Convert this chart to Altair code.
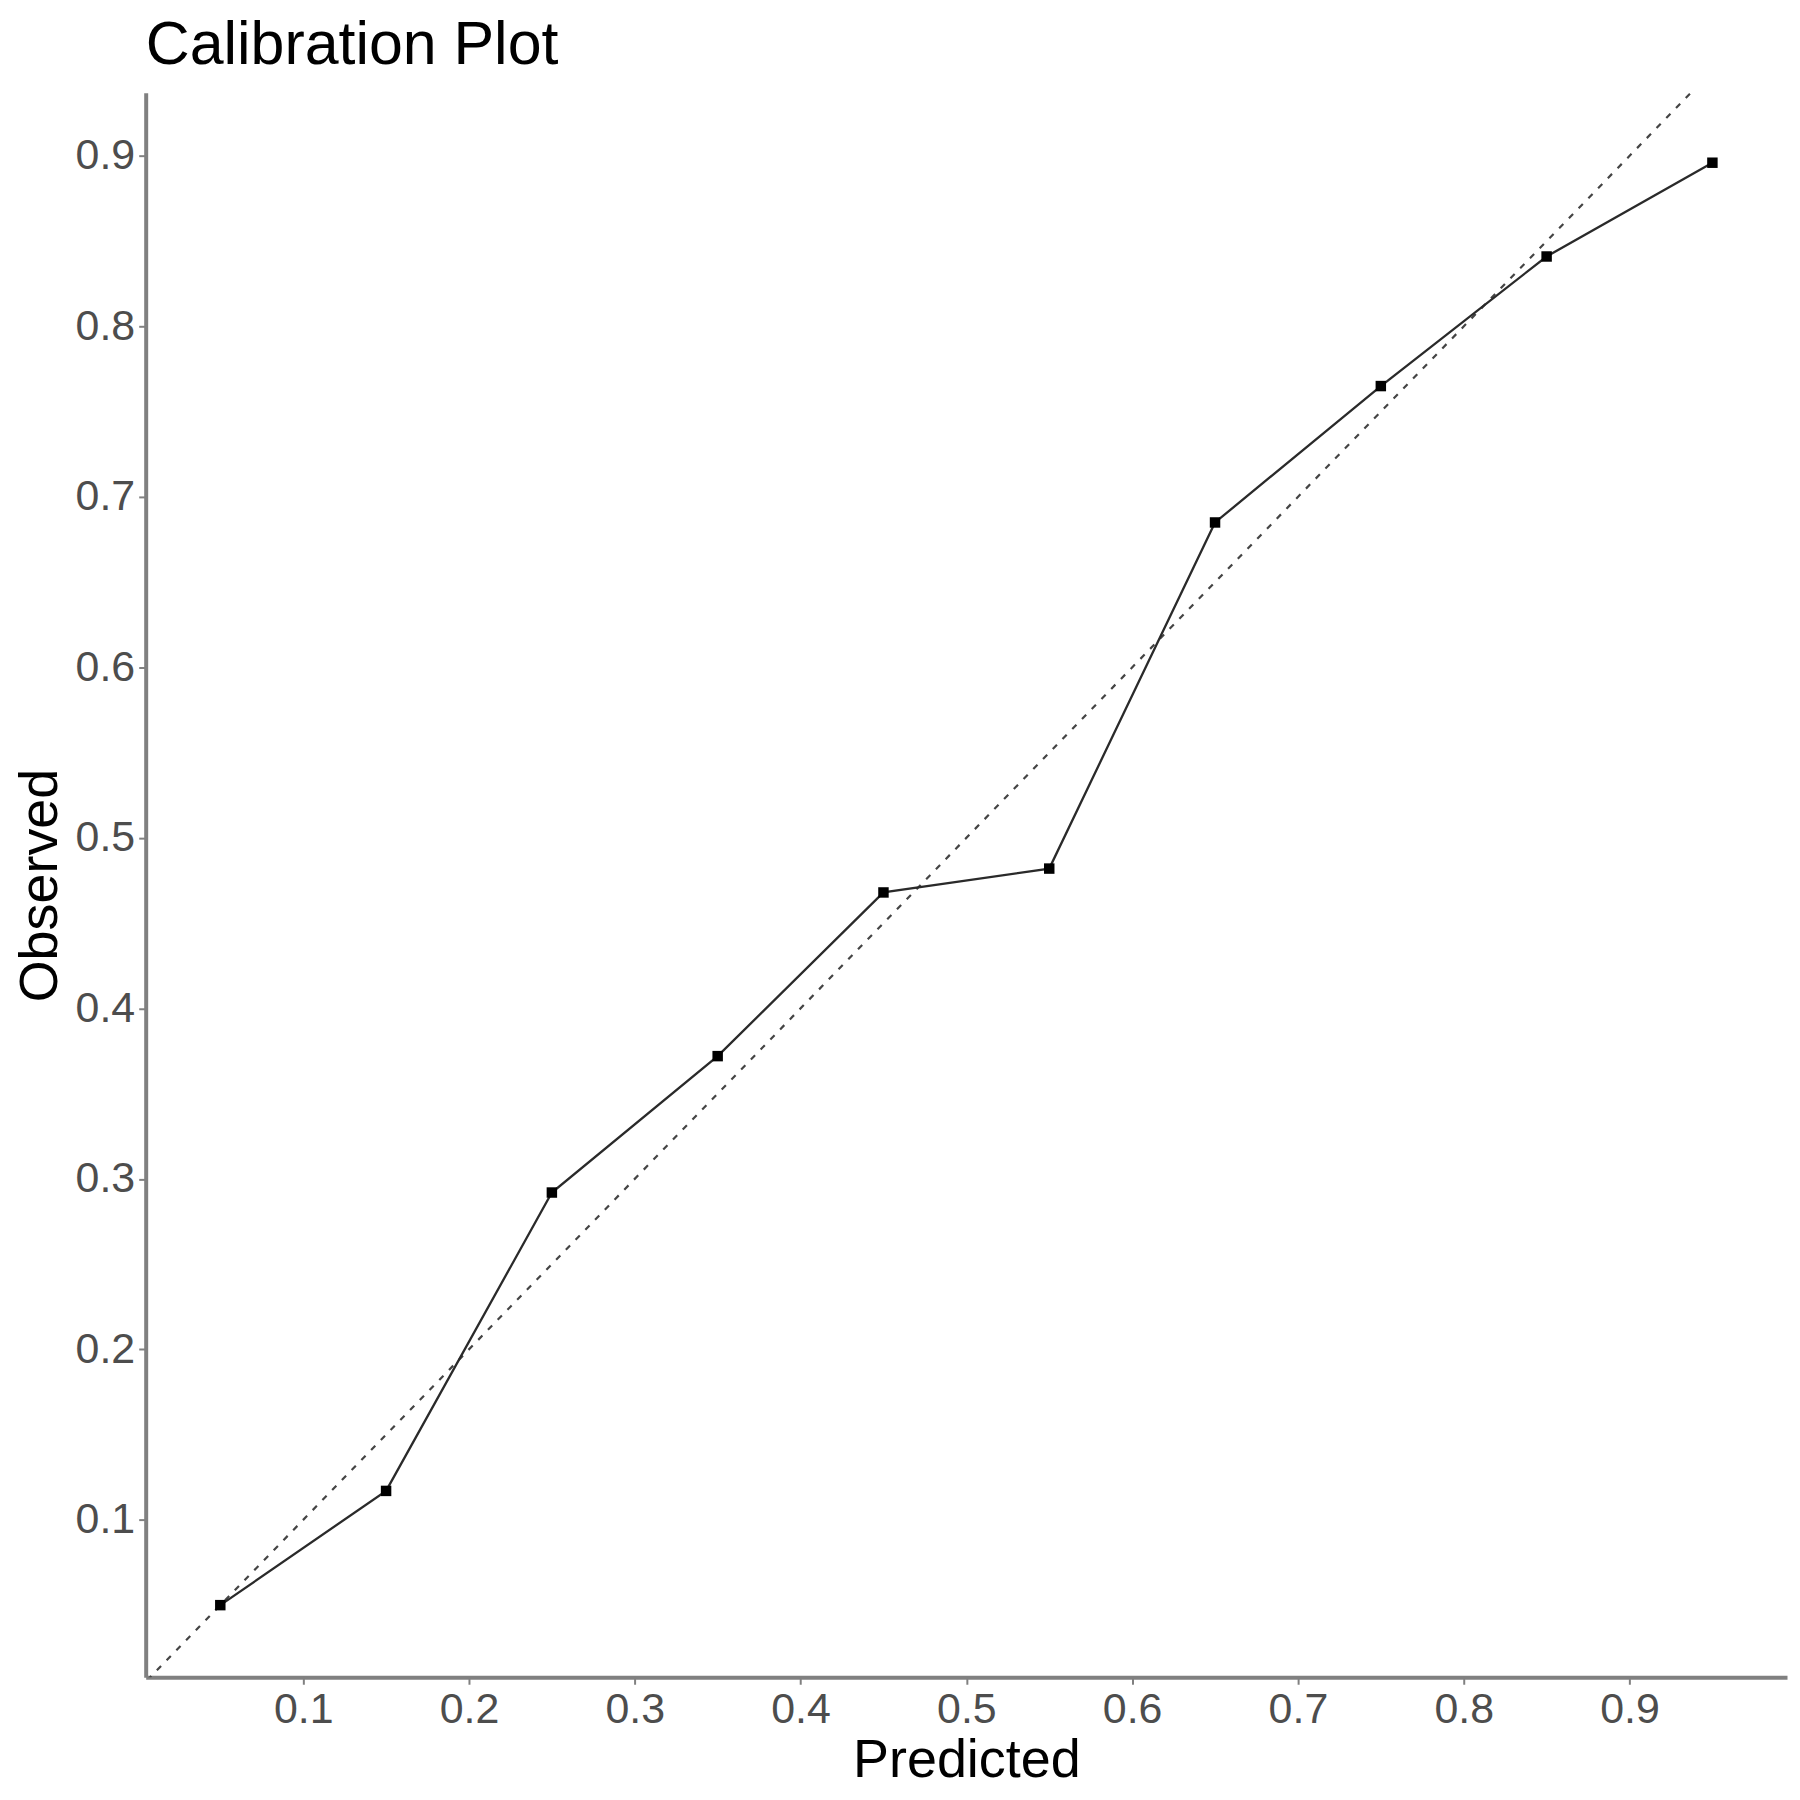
import altair as alt
import pandas as pd

predicted = [0.05, 0.15, 0.25, 0.35, 0.45, 0.55, 0.65, 0.75, 0.85, 0.95]
observed = [0.050, 0.117, 0.292, 0.372, 0.468, 0.482, 0.685, 0.765, 0.841, 0.896]
diag_x = [0.0, 1.0]
diag_y = [0.0, 1.0]
tick_values = [0.1, 0.2, 0.3, 0.4, 0.5, 0.6, 0.7, 0.8, 0.9]

df = pd.DataFrame({"Predicted": predicted, "Observed": observed})
diag = pd.DataFrame({"Predicted": diag_x, "Observed": diag_y})

FONT = "Liberation Sans"

xscale = alt.Scale(domain=[0.005, 0.995], nice=False, zero=False)
yscale = alt.Scale(domain=[0.0077, 0.937], nice=False, zero=False)

xaxis = alt.Axis(values=tick_values, format=".1f", title="Predicted", grid=False,
                 domainColor="#808080", domainWidth=4, tickColor="#808080", tickWidth=2,
                 tickSize=7, labelPadding=4, labelFontSize=43, labelColor="#4d4d4d",
                 labelFont=FONT, titleFont=FONT, titleFontSize=54, titleFontWeight="normal",
                 titleColor="#000000", titlePadding=2)
yaxis = alt.Axis(values=tick_values, format=".1f", title="Observed", grid=False,
                 domainColor="#808080", domainWidth=4, tickColor="#808080", tickWidth=2,
                 tickSize=7, labelPadding=4, labelFontSize=43, labelColor="#4d4d4d",
                 labelFont=FONT, titleFont=FONT, titleFontSize=54, titleFontWeight="normal",
                 titleColor="#000000", titlePadding=8)

dashed = alt.Chart(diag).mark_line(color="#444444", strokeWidth=2.2, strokeDash=[6, 8], clip=True).encode(
    x=alt.X("Predicted:Q", scale=xscale, axis=xaxis),
    y=alt.Y("Observed:Q", scale=yscale, axis=yaxis),
)

line = alt.Chart(df).mark_line(color="#2a2a2a", strokeWidth=2.3).encode(
    x=alt.X("Predicted:Q", scale=xscale),
    y=alt.Y("Observed:Q", scale=yscale),
)

pts = alt.Chart(df).mark_point(filled=True, color="#000000", size=110, opacity=1, shape="square").encode(
    x=alt.X("Predicted:Q", scale=xscale),
    y=alt.Y("Observed:Q", scale=yscale),
)

chart = alt.layer(dashed, line, pts).properties(
    width=1645, height=1588,
    title=alt.TitleParams("Calibration Plot", anchor="start", frame="group", font=FONT, fontSize=61,
                          fontWeight="normal", color="#000000", offset=16),
).configure(background="white").configure_view(strokeWidth=0, stroke="transparent")

chart.save("out.html", embed_options={"renderer": "svg", "actions": False})
